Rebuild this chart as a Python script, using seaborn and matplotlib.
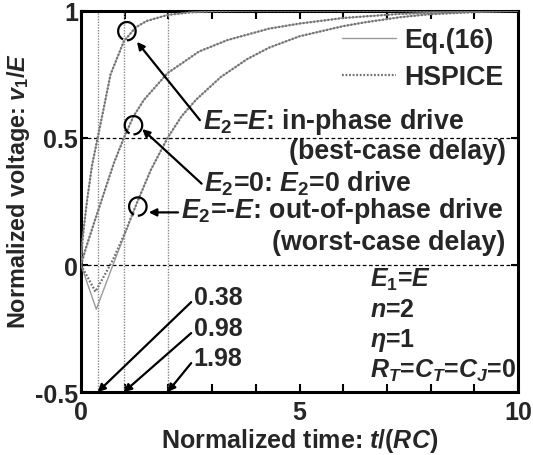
import matplotlib
matplotlib.use("Agg")
import matplotlib.pyplot as plt
from matplotlib.patches import Arc
from matplotlib.lines import Line2D
import seaborn as sns
import pandas as pd

# Normalized time samples and responses (v1/E) for the three drive cases
t_inphase = [0, 0.03, 0.06, 0.14, 0.25, 0.38, 0.5, 0.675, 0.98, 1.25, 1.5, 1.98, 2.5, 3, 4, 10]
v_inphase = [0, 0.09, 0.14, 0.256, 0.39, 0.5, 0.6, 0.75, 0.88, 0.935, 0.96, 0.984, 0.994, 0.998, 1.0, 1.0]

t_zero = [0, 0.1, 0.25, 0.48, 0.75, 0.98, 1.2, 1.44, 1.98, 2.7, 3.35, 4.3, 5, 6, 7.3, 8.5, 10]
v_zero = [0, 0.06, 0.14, 0.26, 0.40, 0.5, 0.585, 0.65, 0.755, 0.84, 0.885, 0.93, 0.95, 0.972, 0.988, 0.996, 1.0]

t_out = [0, 0.35, 0.73, 1.0, 1.28, 1.6, 1.98, 2.3, 2.63, 3.2, 3.8, 4.3, 5, 6, 6.5, 7.3, 8, 9, 10]
v_out = [0, -0.174, 0, 0.12, 0.245, 0.375, 0.5, 0.585, 0.65, 0.74, 0.81, 0.855, 0.9, 0.94, 0.955, 0.975, 0.987, 0.995, 1.0]
# HSPICE out-of-phase response differs only around the initial dip
t_out_sp = [0, 0.33, 0.73, 1.0, 1.28, 1.6, 1.98, 2.3, 2.63, 3.2, 3.8, 4.3, 5, 6, 6.5, 7.3, 8, 9, 10]
v_out_sp = [0, -0.105, 0.02, 0.125, 0.245, 0.375, 0.5, 0.585, 0.65, 0.74, 0.81, 0.855, 0.9, 0.94, 0.955, 0.975, 0.987, 0.995, 1.0]

delays = [0.38, 0.98, 1.98]
delay_labels = ["0.38", "0.98", "1.98"]

rows = []
for case, tt, vv in [("in", t_inphase, v_inphase), ("zero", t_zero, v_zero), ("out", t_out, v_out)]:
    rows += [dict(t=a, v=b, case=case, src="Eq.(16)") for a, b in zip(tt, vv)]
for case, tt, vv in [("in", t_inphase, v_inphase), ("zero", t_zero, v_zero), ("out", t_out_sp, v_out_sp)]:
    rows += [dict(t=a, v=b, case=case, src="HSPICE") for a, b in zip(tt, vv)]
df = pd.DataFrame(rows)

sns.set_style("ticks")
plt.rcParams["font.family"] = ["Liberation Sans", "DejaVu Sans"]
plt.rcParams["font.weight"] = "bold"
plt.rcParams["mathtext.fontset"] = "custom"
plt.rcParams["mathtext.it"] = "Liberation Sans:italic:bold"
plt.rcParams["mathtext.rm"] = "Liberation Sans:bold"
plt.rcParams["mathtext.bf"] = "Liberation Sans:bold"
plt.rcParams["mathtext.sf"] = "Liberation Sans:bold"

FS = 18
FS_NOTE = 19.3
fig = plt.figure(figsize=(5.33, 4.56), dpi=100)
ax = fig.add_axes([0.152, 0.138, 0.820, 0.836])

# reference lines
for d in delays:
    ax.axvline(d, color="#888888", lw=1.0, ls=(0, (1, 1)), zorder=1)
for y in (0, 0.5):
    ax.axhline(y, color="black", lw=0.9, ls=(0, (3, 2)), zorder=1)

eq = df[df.src == "Eq.(16)"]
sp = df[df.src == "HSPICE"]
sns.lineplot(data=eq, x="t", y="v", units="case", estimator=None, sort=False,
             color="#9a9a9a", lw=1.0, ax=ax, zorder=3, legend=False)
sns.lineplot(data=sp, x="t", y="v", units="case", estimator=None, sort=False,
             color="#707070", lw=1.6, ls=(0, (0.8, 0.8)), ax=ax, zorder=4, legend=False)

ax.set_xlim(0, 10)
ax.set_ylim(-0.5, 1)
ax.set_xticks([0, 5, 10])
ax.set_xticklabels(["0", "5", "10"])
ax.set_xticks(range(0, 11), minor=True)
ax.set_yticks([-0.5, 0, 0.5, 1])
ax.set_yticklabels(["-0.5", "0", "0.5", "1"])
ax.tick_params(axis="both", which="both", direction="in", top=True, right=True,
               width=1.5, labelsize=FS, color="black")
ax.tick_params(axis="x", which="both", length=6, pad=6)
ax.tick_params(axis="y", which="both", length=5, pad=2)
for s in ax.spines.values():
    s.set_linewidth(2.2)
    s.set_color("black")

ax.set_xlabel(r"Normalized time: $t$/($RC$)", fontsize=FS, fontweight="bold", labelpad=1)
ax.set_ylabel(r"Normalized voltage: $v_1$/$E$", fontsize=16.8, fontweight="bold")
ax.yaxis.set_label_coords(-0.112, 0.53)

# legend
handles = [Line2D([], [], color="#9a9a9a", lw=1.0),
           Line2D([], [], color="#707070", lw=1.6, ls=(0, (0.8, 0.8)))]
ax.legend(handles, ["Eq.(16)", "HSPICE"], loc="upper right", bbox_to_anchor=(0.99, 0.985),
          frameon=False, fontsize=FS_NOTE, handlelength=2.0, handletextpad=0.3, labelspacing=0.4,
          borderaxespad=0.0)

# curve markers and case annotations
markers = [(1.05, 0.92), (1.2, 0.55), (1.3, 0.23)]
for cx, cy in markers:
    ax.add_patch(Arc((cx, cy), 0.40, 0.072, theta1=-90, theta2=200, lw=1.6,
                     color="black", zorder=6))

arrow = dict(arrowstyle="-|>", color="black", lw=1.6, mutation_scale=11, shrinkA=0, shrinkB=0)
ax.annotate("", xy=(1.28, 0.878), xytext=(2.72, 0.57), arrowprops=arrow, zorder=6)
ax.annotate("", xy=(1.40, 0.535), xytext=(2.76, 0.32), arrowprops=arrow, zorder=6)
ax.annotate("", xy=(1.55, 0.207), xytext=(2.22, 0.207), arrowprops=arrow, zorder=6)

ax.text(2.78, 0.565, r"$E_2$=$E$: in-phase drive", fontsize=FS_NOTE, ha="left", va="center")
ax.text(9.72, 0.45, "(best-case delay)", fontsize=FS_NOTE, ha="right", va="center")
ax.text(2.82, 0.325, r"$E_2$=0: $E_2$=0 drive", fontsize=FS_NOTE, ha="left", va="center")
ax.text(2.28, 0.215, r"$E_2$=-$E$: out-of-phase drive", fontsize=FS_NOTE, ha="left", va="center")
ax.text(9.72, 0.09, "(worst-case delay)", fontsize=FS_NOTE, ha="right", va="center")

# delay arrows along the time axis
label_y = [-0.126, -0.248, -0.366]
for d, lab, ly in zip(delays, delay_labels, label_y):
    ax.annotate("", xy=(d, -0.5), xytext=(2.52, ly - 0.02), arrowprops=arrow, zorder=6)
    ax.text(2.58, ly, lab, fontsize=FS, ha="left", va="center")

# circuit parameters
params = [r"$E_1$=$E$", r"$n$=2", r"$\eta$=1", r"$R_T$=$C_T$=$C_J$=0"]
for i, p in enumerate(params):
    ax.text(6.62, -0.055 - 0.119 * i, p, fontsize=FS, ha="left", va="center")

fig.savefig("out.png", dpi=100)
